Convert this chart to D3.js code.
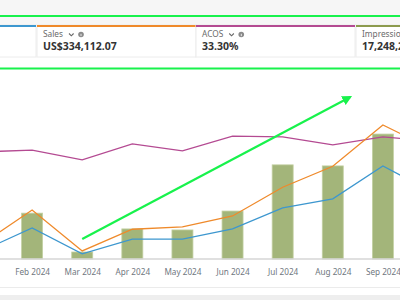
<!DOCTYPE html>
<html>
<head>
<meta charset="utf-8">
<script src="https://cdn.jsdelivr.net/npm/d3@7"></script>
<style>
  body { margin: 0; background: #fff; }
  svg { display: block; font-family: "Noto Sans", Roboto, sans-serif; }
</style>
</head>
<body>
<div id="chart"></div>
<script>
// Data
const months = ["Jan 2024", "Feb 2024", "Mar 2024", "Apr 2024", "May 2024",
                "Jun 2024", "Jul 2024", "Aug 2024", "Sep 2024", "Oct 2024"];
const sales = [8.6, 28.0, 4.6, 17.0, 18.3, 24.6, 41.0, 53.0, 76.6, 62.5];      // US$ thousands
const spend = [2.3, 8.9, 1.5, 5.7, 5.7, 8.6, 14.6, 17.2, 26.6, 19.0];         // US$ thousands
const acos = [30.6, 31.1, 28.3, 32.9, 30.9, 35.1, 34.9, 32.6, 34.9, 33.7];    // %
const impressions = [0.9, 1.31, 0.20, 0.86, 0.83, 1.37, 2.69, 2.66, 3.57, 2.86]; // millions

// metric cards (the first one is scrolled out of view, only its colour bar shows)
const cardLabels = ["", "Sales", "ACOS", "Impressions"];
const cardValues = ["", "US$334,112.07", "33.30%", "17,248,263"];
const cardColors = ["#3d97cf", "#ef8a2b", "#b44a92", "#8c9b4e"];

const W = 400, H = 300;
const svg = d3.select("#chart").append("svg")
  .attr("width", W).attr("height", H);

// Page background strips
svg.append("rect").attr("x", 0).attr("y", 0).attr("width", W).attr("height", 25).attr("fill", "#f6f6f6");
svg.append("rect").attr("x", 0).attr("y", 295).attr("width", W).attr("height", 5).attr("fill", "#eeeeee");
svg.append("line").attr("x1", 0).attr("x2", W).attr("y1", 287.5).attr("y2", 287.5)
  .attr("stroke", "#ebebeb");

// Metric cards
const cardX = [-123, 37, 196, 356];
const cardW = 159;
const cardG = svg.append("g").selectAll("g").data(cardLabels).enter().append("g")
  .attr("transform", (d, i) => `translate(${cardX[i]},25)`);
cardG.append("rect").attr("width", cardW).attr("height", 32)
  .attr("fill", "#fff").attr("stroke", "#ececec");
cardG.append("rect").attr("width", cardW).attr("height", 2)
  .attr("fill", (d, i) => cardColors[i]);
cardG.filter(d => d !== "").each(function(d, i) {
  const g = d3.select(this);
  const idx = cardLabels.indexOf(d);
  const lbl = g.append("text").attr("x", 6).attr("y", 12)
    .attr("font-size", 8.3).attr("fill", "#6b6b6b").text(d);
  g.append("text").attr("x", 6).attr("y", 25)
    .attr("font-size", 10.5).attr("font-weight", "bold").attr("fill", "#333")
    .text(cardValues[idx]);
  const tw = lbl.node().getComputedTextLength();
  // chevron + info icon
  g.append("path")
    .attr("d", `M${tw + 12},8.5 l2.3,2.3 l2.3,-2.3`)
    .attr("fill", "none").attr("stroke", "#666").attr("stroke-width", 1.1);
  g.append("circle").attr("cx", tw + 24).attr("cy", 9.5).attr("r", 2.8).attr("fill", "#8a8a8a");
  g.append("rect").attr("x", tw + 23.6).attr("y", 8.8).attr("width", 0.8).attr("height", 2.3).attr("fill", "#fff");
});

// Green highlight lines
svg.append("line").attr("x1", 0).attr("x2", W).attr("y1", 16).attr("y2", 16)
  .attr("stroke", "#18f24c").attr("stroke-width", 2);
svg.append("line").attr("x1", 0).attr("x2", W).attr("y1", 68.5).attr("y2", 68.5)
  .attr("stroke", "#18f24c").attr("stroke-width", 2);

// Scales
const x = d3.scalePoint().domain(months).range([-18, 433]);
const xIdx = d3.scaleLinear().domain([0, months.length - 1]).range([-18, 433]);
const plotTop = 84, plotBottom = 259;
const ySales = d3.scaleLinear().domain([0, 100]).range([plotBottom, plotTop]);
const ySpend = d3.scaleLinear().domain([0, 50]).range([plotBottom, plotTop]);
const yAcos = d3.scaleLinear().domain([0, 50]).range([plotBottom, plotTop]);
const yImp = d3.scaleLinear().domain([0, 5]).range([plotBottom, plotTop]);

// Gridlines
const grid = svg.append("g")
  .attr("transform", `translate(${W},0)`)
  .call(d3.axisLeft(ySales).tickValues([20, 40, 60, 80, 100]).tickSize(-W).tickFormat(""));
grid.select(".domain").remove();
grid.selectAll(".tick line").attr("stroke", "#ececec").attr("stroke-width", 1.5);

// Bars (impressions)
const barW = 21;
svg.append("g").selectAll("rect").data(impressions).enter().append("rect")
  .attr("x", (d, i) => x(months[i]) - barW / 2)
  .attr("y", d => yImp(d))
  .attr("width", barW)
  .attr("height", d => plotBottom - yImp(d))
  .attr("fill", "#a3b57a")
  .attr("stroke", "#c3d0a3").attr("stroke-width", 0.8);

// X axis
const xAxis = svg.append("g").attr("transform", `translate(0,${plotBottom})`)
  .call(d3.axisBottom(x).tickSize(0).tickPadding(10));
xAxis.select(".domain").attr("stroke", "#d6d6d6").attr("stroke-width", 1.5)
  .attr("d", `M0,0H${W}`);
xAxis.selectAll("text").attr("font-size", 8.2).attr("fill", "#6f7780")
  .attr("font-family", "\"Noto Sans\", sans-serif");

// Lines
const lineOf = (vals, y) => d3.line()
  .x((d, i) => x(months[i]))
  .y(d => y(d))(vals);
svg.append("path").attr("d", lineOf(acos, yAcos))
  .attr("fill", "none").attr("stroke", "#b44a92").attr("stroke-width", 1.3);
svg.append("path").attr("d", lineOf(spend, ySpend))
  .attr("fill", "none").attr("stroke", "#3d97cf").attr("stroke-width", 1.3);
svg.append("path").attr("d", lineOf(sales, ySales))
  .attr("fill", "none").attr("stroke", "#ef8a2b").attr("stroke-width", 1.3);

// Trend arrow annotation
const arrowFrom = [2, 11.4];
const arrowTo = [7.35, 92.6];
const defs = svg.append("defs");
defs.append("marker").attr("id", "ah").attr("viewBox", "0 0 10 10")
  .attr("refX", 8).attr("refY", 5).attr("markerWidth", 4.5).attr("markerHeight", 4.5)
  .attr("orient", "auto")
  .append("path").attr("d", "M0,0L10,5L0,10z").attr("fill", "#18f24c");
svg.append("line")
  .attr("x1", xIdx(arrowFrom[0])).attr("y1", ySales(arrowFrom[1]))
  .attr("x2", xIdx(arrowTo[0])).attr("y2", ySales(arrowTo[1]))
  .attr("stroke", "#18f24c").attr("stroke-width", 2.2)
  .attr("marker-end", "url(#ah)");
</script>
</body>
</html>
